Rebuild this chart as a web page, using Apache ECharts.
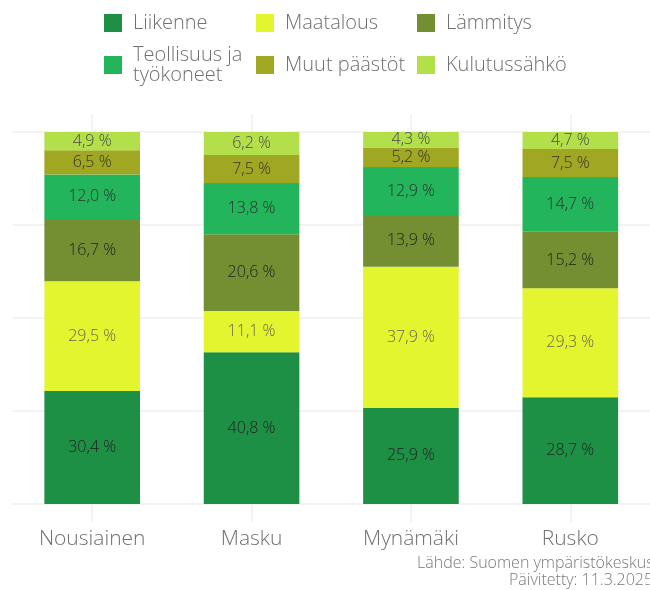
<!DOCTYPE html>
<html>
<head>
<meta charset="utf-8">
<script src="https://cdn.jsdelivr.net/npm/echarts@6/dist/echarts.min.js"></script>
<style>
  html, body { margin: 0; padding: 0; background: #fff; }
  #chart { width: 650px; height: 590px; }
</style>
</head>
<body>
<div id="chart"></div>
<script>
// Kunnat
const municipalities = ['Nousiainen', 'Masku', 'Mynämäki', 'Rusko'];

// Päästöjen osuudet sektoreittain (%)
const liikenne     = [30.4, 40.8, 25.9, 28.7];
const maatalous    = [29.5, 11.1, 37.9, 29.3];
const lammitys     = [16.7, 20.6, 13.9, 15.2];
const teollisuus   = [12.0, 13.8, 12.9, 14.7];
const muutPaastot  = [6.5, 7.5, 5.2, 7.5];
const kulutussahko = [4.9, 6.2, 4.3, 4.7];

const yTicks = [0, 25, 50, 75, 100];

const FONT = '"Open Sans", Lato, sans-serif';
const WEIGHT = 300;

const sectors = [
  { name: 'Liikenne', data: liikenne, color: '#1E9046', label: '#1f1f1f' },
  { name: 'Maatalous', data: maatalous, color: '#E3F52F', label: '#666658' },
  { name: 'Lämmitys', data: lammitys, color: '#738F31', label: '#1f1f1f' },
  { name: 'Teollisuus ja työkoneet', data: teollisuus, color: '#22B55B', label: '#2e2e2e' },
  { name: 'Muut päästöt', data: muutPaastot, color: '#A0A722', label: '#333326' },
  { name: 'Kulutussähkö', data: kulutussahko, color: '#B3E04A', label: '#4a4a4a' }
];

const fmt = v => v.toFixed(1).replace('.', ',') + ' %';

// Legend slots: three columns, two rows
const legendSlots = [
  { left: 104, top: 13 },
  { left: 256, top: 13 },
  { left: 417, top: 13 },
  { left: 104, top: 45 },
  { left: 256, top: 55 },
  { left: 417, top: 55 }
];

const legends = sectors.map((s, k) => ({
  data: [s.name],
  left: legendSlots[k].left,
  top: legendSlots[k].top,
  padding: 0,
  itemWidth: 18,
  itemHeight: 18,
  icon: 'rect',
  selectedMode: false,
  formatter: name => name === 'Teollisuus ja työkoneet' ? 'Teollisuus ja\ntyökoneet' : name,
  textStyle: {
    fontFamily: FONT,
    fontWeight: WEIGHT,
    fontSize: 20,
    lineHeight: 20,
    color: '#707070',
    padding: [0, 0, 0, 6]
  }
}));

const chart = echarts.init(document.getElementById('chart'), null, { renderer: 'canvas' });

chart.setOption({
  backgroundColor: '#ffffff',
  animation: false,
  legend: legends,
  grid: { left: 12.5, top: 132, width: 643, height: 372, containLabel: false },
  xAxis: [
    {
      type: 'category',
      data: municipalities,
      position: 'bottom',
      axisLine: { show: false },
      axisTick: { show: true, alignWithLabel: true, length: 18, lineStyle: { color: '#efefef', width: 1.5 } },
      axisLabel: { fontFamily: FONT, fontWeight: WEIGHT, fontSize: 21, color: '#707070', margin: 25 },
      splitLine: { show: false }
    },
    {
      type: 'category',
      data: municipalities,
      position: 'top',
      axisLine: { show: false },
      axisTick: { show: true, alignWithLabel: true, length: 18, lineStyle: { color: '#efefef', width: 1.5 } },
      axisLabel: { show: false },
      splitLine: { show: false }
    }
  ],
  yAxis: {
    type: 'value',
    min: yTicks[0],
    max: yTicks[yTicks.length - 1],
    interval: yTicks[1] - yTicks[0],
    axisLine: { show: false },
    axisTick: { show: false },
    axisLabel: { show: false },
    splitLine: { show: true, lineStyle: { color: '#efefef', width: 1.5 } }
  },
  series: sectors.map(s => ({
    name: s.name,
    type: 'bar',
    stack: 'total',
    barWidth: '60%',
    data: s.data,
    itemStyle: { color: s.color },
    label: {
      show: true,
      position: 'inside',
      formatter: p => fmt(p.value),
      fontFamily: FONT,
      fontWeight: WEIGHT,
      fontSize: 16,
      color: s.label
    }
  })),
  graphic: [
    {
      type: 'text',
      left: 417,
      top: 555,
      style: { text: 'Lähde: Suomen ympäristökeskus', font: WEIGHT + ' 16px ' + FONT, fill: '#7a7a7a' }
    },
    {
      type: 'text',
      left: 509,
      top: 572,
      style: { text: 'Päivitetty: 11.3.2025', font: WEIGHT + ' 16px ' + FONT, fill: '#7a7a7a' }
    }
  ]
});
</script>
</body>
</html>
